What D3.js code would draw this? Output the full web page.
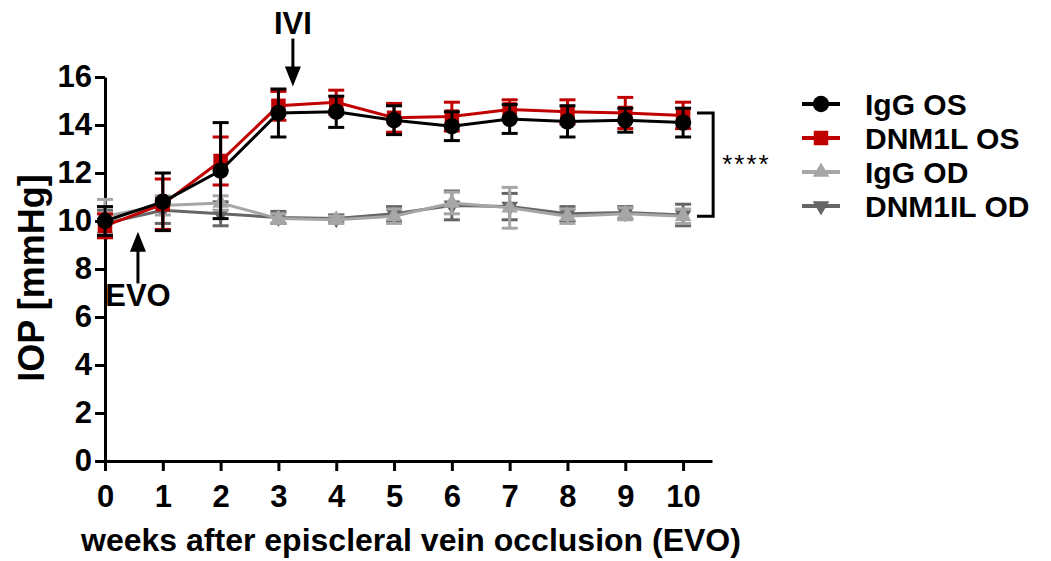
<!DOCTYPE html>
<html>
<head>
<meta charset="utf-8">
<script src="https://cdn.jsdelivr.net/npm/d3@7"></script>
<style>
  body { margin: 0; background: #fff; }
  svg { font-family: "Liberation Sans", Arial, sans-serif; font-weight: bold; }
</style>
</head>
<body>
<div id="chart"></div>
<script>
// Data (IOP in mmHg, mean and SEM per week)
const weeks = [0, 1, 2, 3, 4, 5, 6, 7, 8, 9, 10]
const xTicks = [0, 1, 2, 3, 4, 5, 6, 7, 8, 9, 10]
const yTicks = [0, 2, 4, 6, 8, 10, 12, 14, 16]

const iggOS = [10.0, 10.8, 12.1, 14.5, 14.55, 14.2, 13.95, 14.25, 14.15, 14.2, 14.1]
const iggOSErr = [0.6, 1.2, 2.0, 1.0, 0.65, 0.6, 0.6, 0.6, 0.65, 0.5, 0.6]
const dnm1lOS = [9.8, 10.7, 12.5, 14.8, 14.95, 14.3, 14.35, 14.65, 14.55, 14.5, 14.4]
const dnm1lOSErr = [0.5, 1.05, 1.0, 0.6, 0.5, 0.6, 0.6, 0.4, 0.5, 0.65, 0.55]
const iggOD = [10.2, 10.65, 10.75, 10.1, 10.05, 10.2, 10.75, 10.55, 10.2, 10.3, 10.2]
const iggODErr = [0.7, 0.4, 0.3, 0.2, 0.15, 0.3, 0.45, 0.85, 0.3, 0.25, 0.3]
const dnm1ilOD = [9.9, 10.45, 10.3, 10.15, 10.1, 10.3, 10.65, 10.6, 10.3, 10.35, 10.25]
const dnm1ilODErr = [0.55, 0.55, 0.5, 0.25, 0.15, 0.3, 0.6, 0.55, 0.3, 0.25, 0.45]

const seriesNames = ['IgG OS', 'DNM1L OS', 'IgG OD', 'DNM1IL OD']
const seriesColors = ['#000000', '#c00000', '#a6a6a6', '#666666']

async function draw() {
  // Dimensions
  let dimensions = {
    width: 1051,
    height: 561,
    left: 105,
    right: 712,
    top: 77,
    bottom: 461,
  }

  const svg = d3.select('#chart')
    .append('svg')
    .attr('width', dimensions.width)
    .attr('height', dimensions.height)

  // Scales
  const xScale = d3.scaleLinear()
    .domain([0, 10.5])
    .range([dimensions.left, dimensions.right])
  const yScale = d3.scaleLinear()
    .domain([0, 16])
    .range([dimensions.bottom, dimensions.top])

  // Axes
  const xAxis = d3.axisBottom(xScale)
    .tickValues(xTicks)
    .tickFormat(d3.format('d'))
    .tickSize(10)
    .tickSizeOuter(0)
    .tickPadding(14)
  const yAxis = d3.axisLeft(yScale)
    .tickValues(yTicks)
    .tickSize(10)
    .tickSizeOuter(0)
    .tickPadding(3)

  svg.append('g')
    .attr('transform', `translate(0, ${dimensions.bottom})`)
    .call(xAxis)
  svg.append('g')
    .attr('transform', `translate(${dimensions.left}, 0)`)
    .call(yAxis)

  svg.selectAll('.domain, .tick line')
    .attr('stroke', '#000')
    .attr('stroke-width', 3)
  svg.selectAll('.tick text')
    .attr('fill', '#000')
    .style('font-size', '31px')
    .style('font-family', '"Liberation Sans", Arial, sans-serif')
    .style('font-weight', 'bold')

  // axis titles
  svg.append('text')
    .attr('x', 411)
    .attr('y', 551)
    .attr('text-anchor', 'middle')
    .style('font-size', '32px')
    .text('weeks after episcleral vein occlusion (EVO)')
  svg.append('text')
    .attr('transform', 'translate(44, 278) rotate(-90)')
    .attr('text-anchor', 'middle')
    .style('font-size', '36px')
    .text('IOP [mmHg]')

  // Series: drawing order bottom -> top
  const series = [
    { name: seriesNames[3], color: seriesColors[3], values: dnm1ilOD, err: dnm1ilODErr, shape: 'down' },
    { name: seriesNames[2], color: seriesColors[2], values: iggOD, err: iggODErr, shape: 'up' },
    { name: seriesNames[1], color: seriesColors[1], values: dnm1lOS, err: dnm1lOSErr, shape: 'square' },
    { name: seriesNames[0], color: seriesColors[0], values: iggOS, err: iggOSErr, shape: 'circle' },
  ]

  const symbolFor = (shape) => {
    if (shape === 'circle') return d3.symbol().type(d3.symbolCircle).size(210)()
    if (shape === 'square') return d3.symbol().type(d3.symbolSquare).size(210)()
    return d3.symbol().type(d3.symbolTriangle).size(120)()
  }

  const line = d3.line()
    .x(d => xScale(d.week))
    .y(d => yScale(d.value))

  const capHalf = 8

  series.forEach(s => {
    const points = weeks.map((w, i) => ({ week: w, value: s.values[i], err: s.err[i] }))
    const g = svg.append('g')

    // error bars
    const bars = g.selectAll('g.err')
      .data(points)
      .join('g')
      .attr('class', 'err')
      .attr('stroke', s.color)
      .attr('stroke-width', 3)
    bars.append('line')
      .attr('x1', d => xScale(d.week))
      .attr('x2', d => xScale(d.week))
      .attr('y1', d => yScale(d.value - d.err))
      .attr('y2', d => yScale(d.value + d.err))
    bars.append('line')
      .attr('x1', d => xScale(d.week) - capHalf)
      .attr('x2', d => xScale(d.week) + capHalf)
      .attr('y1', d => yScale(d.value + d.err))
      .attr('y2', d => yScale(d.value + d.err))
    bars.append('line')
      .attr('x1', d => xScale(d.week) - capHalf)
      .attr('x2', d => xScale(d.week) + capHalf)
      .attr('y1', d => yScale(d.value - d.err))
      .attr('y2', d => yScale(d.value - d.err))

    g.append('path')
      .datum(points)
      .attr('d', line)
      .attr('fill', 'none')
      .attr('stroke', s.color)
      .attr('stroke-width', 3)

    g.selectAll('path.mark')
      .data(points)
      .join('path')
      .attr('class', 'mark')
      .attr('d', symbolFor(s.shape))
      .attr('fill', s.color)
      .attr('transform', d => `translate(${xScale(d.week)}, ${yScale(d.value)})` + (s.shape === 'down' ? ' rotate(180)' : ''))
  })

  // Significance bracket
  const bx1 = xScale(10.24), bx2 = xScale(10.52)
  const by1 = yScale(14.5), by2 = yScale(10.2)
  svg.append('path')
    .attr('d', `M${bx1},${by1} H${bx2} V${by2} H${bx1}`)
    .attr('fill', 'none')
    .attr('stroke', '#000')
    .attr('stroke-width', 3)
  svg.append('text')
    .attr('x', bx2 + 9)
    .attr('y', (by1 + by2) / 2 + 8)
    .style('font-weight', 'normal')
    .style('font-size', '26px')
    .style('letter-spacing', '2px')
    .text('****')

  // Arrows (EVO and IVI)
  const arrow = (x, yFrom, yTo) => {
    const dir = yTo > yFrom ? 1 : -1
    svg.append('line')
      .attr('x1', x).attr('x2', x)
      .attr('y1', yFrom).attr('y2', yTo - dir * 16)
      .attr('stroke', '#000')
      .attr('stroke-width', 3)
    svg.append('path')
      .attr('d', `M${x - 8},${yTo - dir * 20} L${x + 8},${yTo - dir * 20} L${x},${yTo} Z`)
      .attr('fill', '#000')
  }
  arrow(xScale(0.57), yScale(7.4), yScale(9.55))
  svg.append('text')
    .attr('x', xScale(0.57))
    .attr('y', 306)
    .attr('text-anchor', 'middle')
    .style('font-size', '31px')
    .text('EVO')

  arrow(xScale(3.25), yScale(17.6), yScale(15.6))
  svg.append('text')
    .attr('x', xScale(3.25))
    .attr('y', 34)
    .attr('text-anchor', 'middle')
    .style('font-size', '31px')
    .text('IVI')

  // Legend
  const legendOrder = [
    { name: seriesNames[0], color: seriesColors[0], shape: 'circle' },
    { name: seriesNames[1], color: seriesColors[1], shape: 'square' },
    { name: seriesNames[2], color: seriesColors[2], shape: 'up' },
    { name: seriesNames[3], color: seriesColors[3], shape: 'down' },
  ]
  const legend = svg.append('g')
    .attr('transform', 'translate(802, 104)')
  const rows = legend.selectAll('g')
    .data(legendOrder)
    .join('g')
    .attr('transform', (d, i) => `translate(0, ${i * 34})`)
  rows.append('line')
    .attr('x1', 0).attr('x2', 38)
    .attr('stroke', d => d.color)
    .attr('stroke-width', 4)
  rows.append('path')
    .attr('d', d => symbolFor(d.shape))
    .attr('fill', d => d.color)
    .attr('transform', d => 'translate(19, 0)' + (d.shape === 'down' ? ' rotate(180)' : ''))
  rows.append('text')
    .attr('x', 63)
    .attr('y', 11)
    .style('font-size', '30px')
    .text(d => d.name)
}

draw()
</script>
</body>
</html>
